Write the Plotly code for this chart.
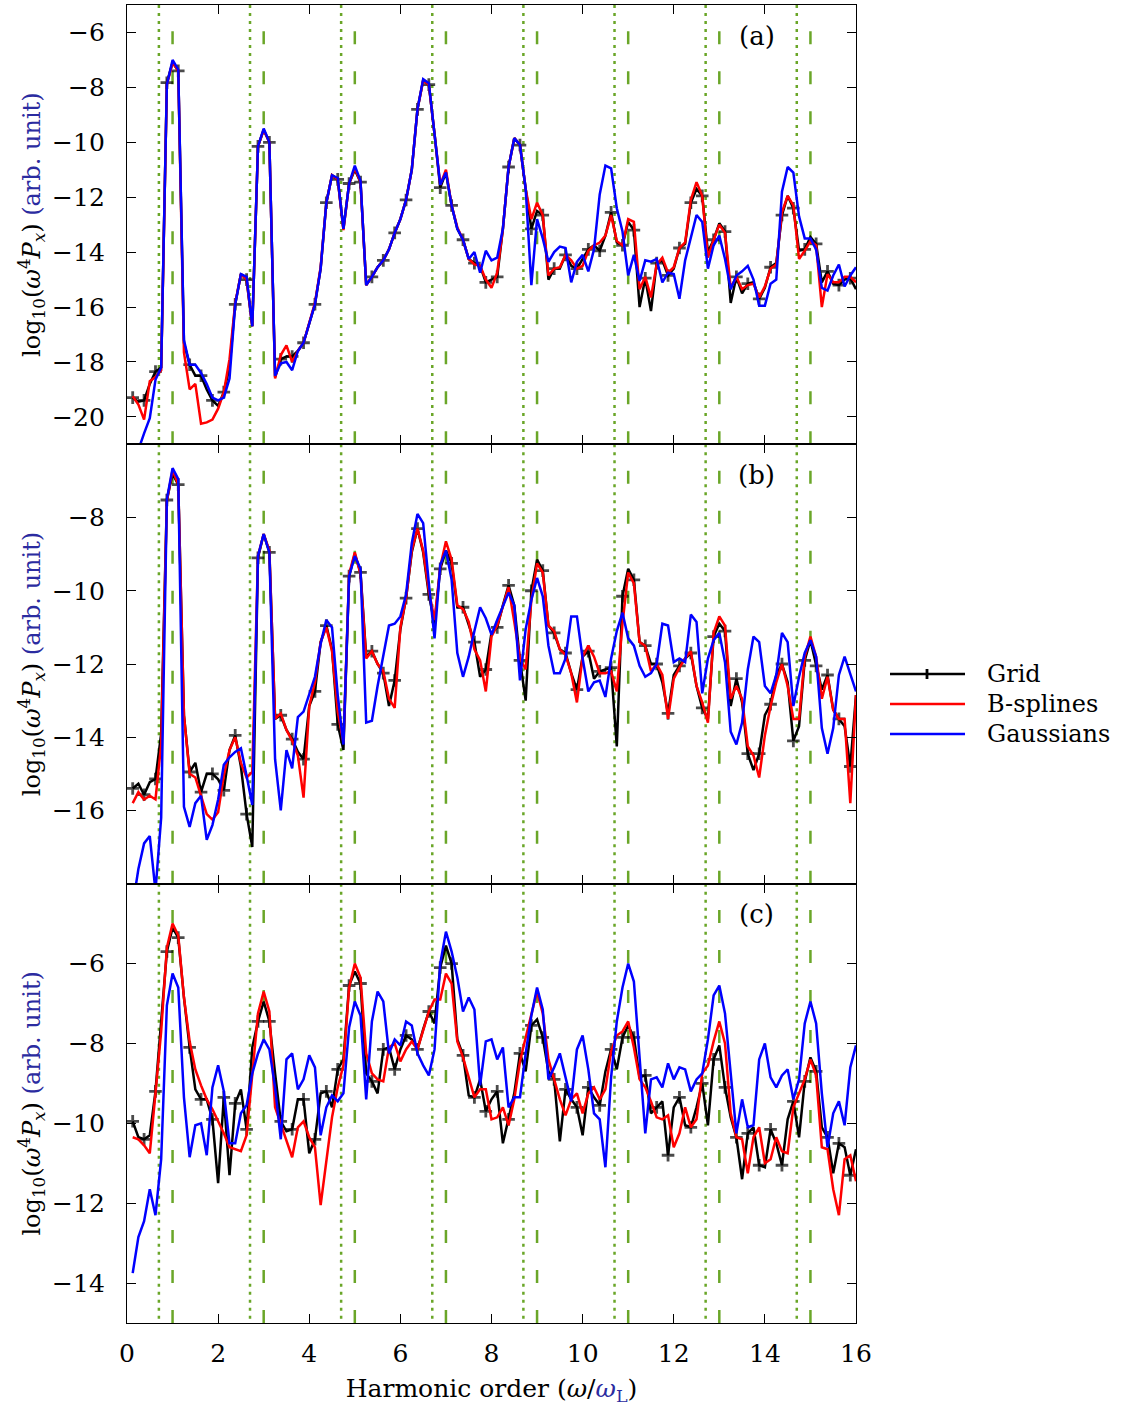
import plotly.graph_objects as go
from plotly.subplots import make_subplots

# frequency grid (harmonic order), step 1/8
harmonic_order = [0.125 * k for k in range(1, 129)]

A_grid = [-19.3,-19.45,-19.4,-18.8,-18.35,-18.2,-7.83,-7.1,-7.4,-17.3,-18.1,-18.5,-18.5,-19.0,-19.4,-19.6,-19.1,-18.2,-15.9,-14.8,
          -15.0,-16.7,-10.15,-9.55,-10.0,-18.55,-17.9,-17.8,-17.8,-17.6,-17.3,-16.6,-15.9,-14.6,-12.2,-11.2,-11.35,-13.15,-11.5,-11.0,
          -11.45,-15.2,-14.9,-14.55,-14.3,-13.9,-13.3,-12.8,-12.1,-11.0,-8.8,-7.75,-7.9,-9.7,-11.65,-11.1,-12.3,-13.15,-13.55,-14.25,
          -14.4,-14.5,-15.1,-15.0,-14.9,-13.15,-10.9,-9.85,-10.1,-11.7,-13.15,-12.5,-12.65,-15.0,-14.6,-14.6,-14.1,-14.5,-14.6,-14.25,
          -13.9,-13.75,-13.95,-13.4,-12.55,-13.65,-13.75,-12.9,-13.2,-16.0,-14.95,-16.15,-14.4,-14.3,-14.85,-14.6,-13.85,-13.7,-12.2,-11.7,
          -11.95,-14.0,-13.55,-12.95,-13.25,-15.85,-14.9,-15.5,-15.15,-15.1,-15.7,-15.3,-14.55,-14.4,-12.65,-11.95,-12.4,-13.95,-13.9,-13.45,
          -13.7,-15.1,-14.7,-15.15,-15.2,-15.0,-14.95,-15.35]
A_bspl = [-19.25,-19.55,-20.1,-18.7,-18.55,-18.3,-7.9,-7.1,-7.4,-17.65,-19.0,-18.8,-20.25,-20.2,-20.1,-19.7,-19.1,-17.9,-15.85,-14.8,
          -15.0,-16.7,-10.15,-9.55,-10.0,-18.6,-17.75,-17.4,-18.0,-17.6,-17.3,-16.55,-15.85,-14.55,-12.2,-11.2,-11.35,-13.2,-11.5,-10.95,
          -11.45,-15.2,-14.9,-14.55,-14.3,-13.9,-13.3,-12.8,-12.1,-11.0,-8.8,-7.75,-7.9,-9.7,-11.55,-11.0,-12.3,-13.1,-13.55,-14.25,
          -14.45,-14.5,-15.0,-15.3,-14.75,-13.15,-10.9,-9.85,-10.1,-11.7,-12.8,-12.2,-12.65,-14.85,-14.6,-14.55,-14.1,-14.3,-14.6,-14.5,
          -13.95,-13.75,-13.65,-13.4,-12.65,-13.6,-13.75,-12.8,-12.9,-15.35,-14.9,-15.65,-14.45,-14.2,-14.75,-14.55,-13.85,-13.65,-12.1,-11.45,
          -11.95,-14.2,-13.55,-13.0,-13.3,-15.3,-14.9,-15.35,-15.2,-15.15,-15.65,-15.25,-14.6,-14.45,-12.55,-11.95,-12.3,-14.25,-13.95,-13.6,
          -13.75,-16.0,-14.8,-15.1,-15.1,-14.9,-14.9,-15.1]
A_gaus = [-21.6,-21.2,-20.6,-20.05,-18.65,-18.2,-7.9,-7.0,-7.35,-17.2,-18.1,-18.1,-18.4,-18.8,-19.3,-19.4,-19.3,-18.6,-15.9,-14.8,
          -14.9,-16.7,-10.15,-9.5,-10.0,-18.5,-18.05,-18.0,-18.3,-17.6,-17.3,-16.6,-15.9,-14.6,-12.2,-11.2,-11.3,-13.15,-11.5,-10.85,
          -11.4,-15.2,-14.9,-14.55,-14.3,-13.9,-13.3,-12.8,-12.1,-11.0,-8.8,-7.7,-7.85,-9.7,-11.55,-11.1,-12.3,-13.15,-13.55,-14.25,
          -14.0,-14.75,-13.95,-14.3,-14.2,-13.15,-10.9,-9.85,-10.1,-11.7,-15.2,-12.8,-13.5,-14.35,-14.0,-13.8,-13.85,-15.1,-14.35,-14.1,
          -14.7,-13.9,-11.9,-10.85,-10.95,-12.4,-13.25,-14.85,-14.1,-15.05,-14.3,-14.35,-14.25,-15.1,-14.75,-14.8,-15.7,-14.3,-13.45,-12.65,
          -12.9,-14.6,-13.75,-13.4,-14.25,-15.35,-14.85,-14.7,-14.5,-15.0,-15.95,-15.95,-15.15,-15.0,-11.8,-10.9,-11.1,-12.7,-13.5,-13.5,
          -13.9,-15.3,-15.4,-14.85,-14.45,-15.25,-14.85,-14.55]

B_grid = [-15.4,-15.27,-15.57,-15.23,-15.14,-13.9,-7.52,-6.8,-7.1,-13.4,-14.95,-14.7,-15.5,-15.0,-15.0,-15.15,-15.45,-14.35,-13.95,-14.8,
          -16.1,-17.0,-9.1,-8.45,-8.95,-13.5,-13.4,-13.8,-14.05,-14.4,-14.6,-13.15,-12.75,-11.4,-10.95,-11.6,-13.65,-14.35,-9.6,-9.0,
          -9.5,-11.8,-11.65,-12.0,-12.25,-13.15,-12.45,-11.05,-10.2,-8.95,-8.3,-8.95,-10.1,-10.9,-9.4,-8.9,-9.25,-10.45,-10.45,-10.9,
          -11.4,-12.35,-12.15,-11.15,-11.0,-10.4,-9.85,-10.4,-11.9,-13.0,-10.0,-9.15,-9.45,-10.95,-11.15,-11.6,-11.7,-12.25,-12.7,-11.8,
          -11.65,-12.4,-12.2,-12.15,-12.1,-14.25,-10.15,-9.4,-9.7,-11.4,-11.5,-12.0,-12.0,-12.5,-13.35,-12.3,-12.05,-11.85,-11.7,-12.6,
          -13.2,-13.5,-11.25,-10.9,-11.1,-13.15,-12.4,-13.05,-14.45,-14.9,-14.45,-13.4,-13.1,-12.3,-12.0,-12.5,-14.1,-13.7,-11.9,-11.35,
          -12.05,-12.7,-12.3,-13.25,-13.5,-13.7,-14.8,-12.85]
B_bspl = [-15.8,-15.5,-15.7,-15.6,-15.7,-14.2,-7.55,-6.7,-7.1,-13.4,-15.0,-15.1,-15.6,-16.1,-16.25,-16.05,-15.05,-14.35,-14.0,-14.7,
          -15.1,-14.95,-9.05,-8.45,-8.9,-13.5,-13.35,-13.8,-14.1,-14.5,-15.65,-13.15,-12.5,-11.4,-11.0,-11.65,-13.3,-14.15,-9.55,-8.95,
          -9.55,-11.85,-11.65,-12.0,-12.2,-12.95,-13.2,-11.0,-10.2,-8.9,-8.3,-8.9,-10.0,-10.8,-9.35,-8.65,-9.15,-10.4,-10.5,-10.85,
          -11.6,-11.9,-12.75,-11.25,-10.95,-10.45,-9.9,-10.85,-11.85,-12.15,-10.25,-9.25,-9.5,-10.95,-11.1,-11.6,-11.75,-12.25,-13.05,-11.8,
          -11.5,-11.8,-12.25,-12.25,-12.2,-12.75,-10.9,-9.5,-9.8,-11.4,-11.5,-12.2,-12.0,-12.3,-13.5,-12.4,-12.1,-11.85,-11.65,-12.6,
          -13.05,-13.6,-11.15,-10.7,-10.95,-12.95,-12.6,-12.95,-14.25,-14.5,-15.1,-13.95,-13.15,-12.5,-12.0,-12.6,-13.5,-13.5,-11.8,-11.25,
          -11.8,-12.95,-12.35,-13.25,-13.5,-13.5,-15.8,-12.85]
B_gaus = [-18.6,-17.6,-16.9,-16.7,-18.2,-16.2,-7.5,-6.65,-6.95,-15.9,-16.45,-15.8,-15.6,-16.8,-16.4,-15.7,-14.75,-14.55,-14.4,-14.3,
          -15.05,-15.85,-9.05,-8.45,-8.95,-14.6,-16.0,-14.35,-14.85,-13.45,-13.3,-12.85,-12.35,-11.45,-10.8,-11.0,-12.85,-14.2,-9.6,-9.05,
          -9.4,-13.6,-13.55,-12.6,-11.75,-10.95,-10.9,-10.7,-10.1,-8.7,-7.9,-8.15,-9.8,-11.3,-9.3,-8.9,-9.7,-11.7,-12.35,-11.8,
          -11.1,-10.45,-10.75,-11.2,-10.8,-10.45,-10.05,-10.4,-12.45,-11.05,-10.25,-9.65,-10.15,-11.5,-12.25,-12.25,-11.85,-10.7,-10.7,-11.85,
          -12.75,-12.5,-12.45,-12.9,-11.85,-11.1,-10.6,-11.3,-11.5,-12.05,-12.35,-12.25,-12.0,-10.9,-10.95,-11.95,-11.85,-11.95,-10.65,-10.85,
          -12.8,-11.85,-11.35,-11.15,-11.95,-13.85,-14.2,-13.6,-12.15,-11.25,-11.4,-12.6,-12.8,-12.3,-11.15,-11.4,-13.15,-12.35,-11.7,-11.35,
          -11.8,-13.75,-14.45,-13.75,-12.3,-11.8,-12.25,-12.75]

C_grid = [-9.95,-10.35,-10.4,-10.3,-9.2,-7.5,-5.7,-5.1,-5.35,-6.85,-8.1,-9.15,-9.4,-9.4,-9.9,-11.5,-9.35,-11.3,-9.5,-9.15,
          -10.15,-8.1,-7.45,-6.95,-7.45,-8.75,-9.95,-10.2,-10.15,-9.4,-9.4,-10.75,-10.4,-9.25,-9.2,-9.6,-8.65,-8.4,-6.55,-6.2,
          -6.5,-8.75,-8.95,-9.25,-8.15,-8.1,-8.65,-8.15,-7.8,-7.9,-8.15,-7.65,-7.2,-7.5,-6.1,-5.55,-6.0,-7.9,-8.3,-9.3,
          -9.35,-8.9,-9.7,-9.4,-9.2,-10.5,-9.9,-9.25,-8.25,-8.7,-7.55,-7.4,-7.85,-8.7,-8.9,-10.45,-9.15,-9.4,-9.6,-10.3,
          -9.1,-9.35,-9.55,-8.7,-8.15,-8.65,-7.85,-7.55,-7.85,-8.85,-8.8,-9.75,-9.6,-9.45,-10.8,-9.6,-9.35,-10.05,-10.1,-9.6,
          -9.0,-10.05,-8.4,-8.05,-9.1,-9.85,-10.35,-11.4,-10.25,-10.1,-11.05,-11.1,-10.15,-10.5,-11.05,-9.9,-9.45,-10.35,-8.95,-8.35,
          -8.7,-10.1,-10.35,-11.25,-10.5,-10.6,-11.3,-10.65]
C_bspl = [-10.35,-10.4,-10.55,-10.75,-9.25,-7.7,-5.6,-5.0,-5.3,-6.85,-7.95,-8.65,-9.05,-9.4,-9.65,-9.95,-10.25,-10.6,-10.65,-10.7,
          -10.3,-8.85,-7.25,-6.7,-7.2,-9.6,-10.0,-10.45,-10.85,-10.1,-9.95,-10.35,-10.6,-12.05,-10.9,-9.85,-9.1,-8.55,-6.6,-6.0,
          -6.35,-8.25,-8.75,-8.9,-8.95,-8.1,-8.0,-8.45,-8.15,-7.95,-8.15,-7.7,-7.2,-6.9,-6.9,-6.25,-6.5,-7.95,-8.35,-8.85,
          -9.35,-9.15,-9.15,-9.9,-9.85,-9.6,-10.05,-9.4,-8.45,-7.85,-7.25,-6.7,-7.25,-8.4,-8.9,-9.4,-9.8,-9.4,-9.25,-9.75,
          -9.25,-9.1,-9.4,-9.15,-8.2,-7.8,-7.7,-7.45,-8.1,-8.9,-9.1,-9.45,-9.85,-9.9,-9.8,-10.6,-10.25,-9.6,-10.1,-9.9,
          -8.75,-8.55,-7.95,-7.45,-8.0,-9.75,-10.35,-10.4,-11.25,-10.35,-10.1,-11.0,-10.9,-10.35,-10.7,-10.75,-9.6,-9.25,-8.9,-8.4,
          -8.8,-10.6,-10.65,-11.65,-12.3,-10.9,-10.8,-11.45]
C_gaus = [-13.75,-12.85,-12.45,-11.65,-12.3,-10.9,-7.05,-6.25,-6.6,-9.35,-10.85,-10.05,-10.0,-10.8,-9.1,-8.55,-9.2,-10.5,-10.5,-9.75,
          -9.55,-8.75,-8.25,-7.9,-8.15,-9.1,-10.4,-8.4,-8.25,-9.15,-8.9,-8.3,-8.6,-10.3,-9.6,-9.3,-9.45,-9.25,-7.6,-6.95,
          -7.3,-9.4,-7.45,-6.7,-6.95,-8.25,-7.9,-8.05,-7.45,-7.55,-8.25,-8.55,-8.8,-8.15,-6.0,-5.2,-5.7,-6.35,-7.2,-6.85,
          -7.15,-9.05,-7.95,-7.9,-8.4,-8.1,-9.6,-9.35,-9.35,-8.25,-7.3,-6.6,-7.15,-8.9,-8.6,-8.25,-8.85,-9.45,-8.15,-7.8,
          -8.65,-9.75,-9.9,-11.1,-8.85,-7.45,-6.6,-6.0,-6.45,-8.25,-10.25,-8.9,-8.85,-9.1,-8.5,-8.9,-8.6,-8.65,-9.2,-8.9,
          -8.75,-7.9,-6.8,-6.55,-7.25,-8.75,-10.25,-9.4,-10.1,-10.05,-8.4,-8.0,-8.85,-9.1,-8.8,-8.65,-9.4,-8.9,-7.5,-6.95,
          -7.5,-9.25,-10.6,-9.75,-9.45,-10.05,-8.6,-8.05]

# reference lines
dotted_x = [0.7, 2.7, 4.7, 6.7, 8.7, 10.7, 12.7, 14.7]
dashed_x = [1, 3, 5, 7, 9, 11, 13, 15]

x_ticks = [0, 2, 4, 6, 8, 10, 12, 14, 16]
y_ticks = [[-20, -18, -16, -14, -12, -10, -8, -6],
           [-16, -14, -12, -10, -8],
           [-14, -12, -10, -8, -6]]
y_ranges = [[-21, -5], [-18, -6], [-15, -4]]
panel_labels = ["(a)", "(b)", "(c)"]
series_names = ["Grid", "B-splines", "Gaussians"]
series_colors = ["#000000", "#ff0000", "#0000ff"]
panels = [[A_grid, A_bspl, A_gaus], [B_grid, B_bspl, B_gaus], [C_grid, C_bspl, C_gaus]]

FONT = "DejaVu Serif"
GREEN = "#6aa628"
BLUE_TXT = "#2b2ba0"

W, H = 1121, 1417
ML, MR, MT, MB = 127, 265, 5, 94

fig = make_subplots(rows=3, cols=1, shared_xaxes=True, vertical_spacing=0)

marker_sizes = [9 if (i % 2 == 0) else 0 for i in range(len(harmonic_order))]

for r, series in enumerate(panels, start=1):
    for s, (vals, name, col) in enumerate(zip(series, series_names, series_colors)):
        kw = {}
        if s == 0:
            mode = "lines+markers"
            kw["marker"] = dict(symbol="cross-thin", size=marker_sizes, color=col,
                                line=dict(color=col, width=2.8))
        else:
            mode = "lines"
        fig.add_trace(go.Scatter(x=harmonic_order, y=vals, mode=mode, name=name,
                                 line=dict(color=col, width=2.5), showlegend=False, **kw),
                      row=r, col=1)

ytitle = ("log<sub>10</sub>(<i>ω</i><sup>4</sup><i>P<sub>x</sub></i>) "
          f"<span style='color:{BLUE_TXT}'>(arb. unit)</span>")

for r in range(1, 4):
    fig.update_xaxes(range=[0, 16], tickvals=x_ticks, ticks="inside", ticklen=9, tickwidth=1.3,
                     tickcolor="black", showline=True, linecolor="black", linewidth=1.3,
                     mirror="ticks", showgrid=False, zeroline=False, row=r, col=1)
    fig.update_yaxes(range=y_ranges[r - 1], tickvals=y_ticks[r - 1], ticks="inside", ticklen=9,
                     tickwidth=1.3, tickcolor="black", showline=True, linecolor="black",
                     linewidth=1.3, mirror="ticks", showgrid=False, zeroline=False,
                     ticklabelstandoff=16, tickfont=dict(size=25),
                     title=dict(text=ytitle, font=dict(size=24, family=FONT), standoff=4),
                     row=r, col=1)

fig.update_xaxes(ticklabelstandoff=8, tickfont=dict(size=25),
                 title=dict(text=f"Harmonic order (<i>ω</i>/<span style='color:{BLUE_TXT}'><i>ω</i><sub>L</sub></span>)",
                            font=dict(size=25, family=FONT), standoff=12),
                 row=3, col=1)

shapes = []
yrefs = ["y domain", "y2 domain", "y3 domain"]
for yr in yrefs:
    for xv in dotted_x:
        shapes.append(dict(type="line", xref="x", yref=yr, x0=xv, x1=xv, y0=1, y1=0,
                           line=dict(color=GREEN, width=2.5, dash="3px,5px"), layer="below"))
    for xv in dashed_x:
        shapes.append(dict(type="line", xref="x", yref=yr, x0=xv, x1=xv, y0=0, y1=1,
                           line=dict(color=GREEN, width=2.5, dash="13px,27px"), layer="below"))

# legend (drawn manually to match the long legend samples)
def px2paper(px, py):
    return (px - ML) / (W - ML - MR), (H - MB - py) / (H - MT - MB)

annotations = []
legend_rows = [674, 704, 734]
for name, col, py in zip(series_names, series_colors, legend_rows):
    x0, y0 = px2paper(890, py)
    x1, _ = px2paper(965, py)
    shapes.append(dict(type="line", xref="paper", yref="paper", x0=x0, x1=x1, y0=y0, y1=y0,
                       line=dict(color=col, width=2.5)))
    tx, _ = px2paper(985, py)
    annotations.append(dict(xref="paper", yref="paper", x=tx, y=y0, text=name, showarrow=False,
                            xanchor="left", yanchor="middle", font=dict(size=24, family=FONT, color="black")))
# plus marker on the Grid legend sample
mx, my0 = px2paper(927, legend_rows[0] - 5)
_, my1 = px2paper(927, legend_rows[0] + 5)
shapes.append(dict(type="line", xref="paper", yref="paper", x0=mx, x1=mx, y0=my0, y1=my1,
                   line=dict(color="black", width=2.8)))

for i, lab in enumerate(panel_labels):
    yd = "y domain" if i == 0 else f"y{i+1} domain"
    annotations.append(dict(xref="x domain" if i == 0 else f"x{i+1} domain", yref=yd,
                            x=0.864, y=0.93, text=lab, showarrow=False,
                            xanchor="center", yanchor="middle",
                            font=dict(size=26, family=FONT, color="black")))

fig.update_layout(width=W, height=H, margin=dict(l=ML, r=MR, t=MT, b=MB),
                  plot_bgcolor="white", paper_bgcolor="white",
                  font=dict(family=FONT, size=24, color="black"),
                  shapes=shapes, annotations=annotations, showlegend=False)

fig.write_html("out.html", config={"displayModeBar": False},
               post_script="document.body.style.margin='0';")
